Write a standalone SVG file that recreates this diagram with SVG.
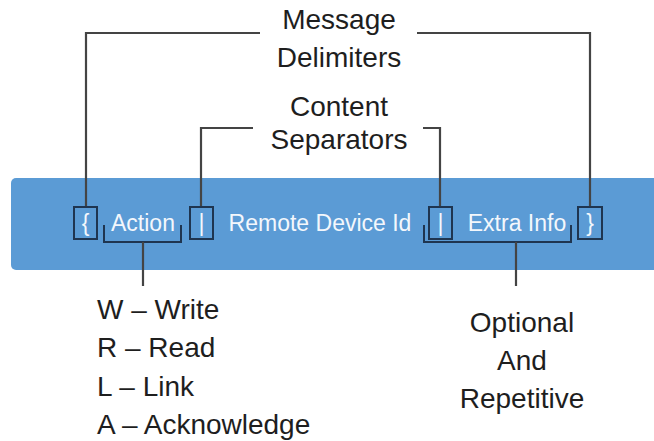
<svg xmlns="http://www.w3.org/2000/svg" width="654" height="441" viewBox="0 0 654 441">
  <style>
    .lbl { font-family: "Liberation Sans", Arial, sans-serif; font-size: 28px; fill: #1e1e1e; }
    .bar-txt { font-family: "Liberation Sans", Arial, sans-serif; font-size: 23px; fill: #f3f7fc; }
    .box { fill: #5b9bd5; stroke: #1f3550; stroke-width: 2; }
    .conn { fill: none; stroke: #444444; stroke-width: 2.2; }
    .brk { fill: none; stroke: #1f3550; stroke-width: 2; }
  </style>
  <rect width="654" height="441" fill="#ffffff"/>

  <g id="message-bar">
    <rect x="11" y="178" width="660" height="92" rx="5" ry="5" fill="#5b9bd5"/>
  </g>

  <g id="connectors">
    <polyline class="conn" points="86,207 86,33 260,33"/>
    <polyline class="conn" points="417,33 590,33 590,207"/>
    <polyline class="conn" points="201,207 201,128 253,128"/>
    <polyline class="conn" points="423,128 440,128 440,207"/>
    <path class="brk" d="M104,225 V242 H181 V225"/>
    <path class="conn" d="M143,242 V286"/>
    <path class="brk" d="M424,225 V242 H571 V225"/>
    <path class="conn" d="M516,242 V286"/>
  </g>

  <g id="open-brace">
    <rect class="box" x="74" y="207" width="23" height="32"/>
    <text class="bar-txt" x="85.5" y="231" text-anchor="middle">{</text>
  </g>
  <g id="action">
    <text class="bar-txt" x="143" y="231" text-anchor="middle">Action</text>
  </g>
  <g id="separator-1">
    <rect class="box" x="190" y="207" width="23" height="32"/>
    <text class="bar-txt" x="201.5" y="231" text-anchor="middle">|</text>
  </g>
  <g id="remote-device-id">
    <text class="bar-txt" x="320" y="231" text-anchor="middle">Remote Device Id</text>
  </g>
  <g id="separator-2">
    <rect class="box" x="429" y="207" width="23" height="32"/>
    <text class="bar-txt" x="440.5" y="231" text-anchor="middle">|</text>
  </g>
  <g id="extra-info">
    <text class="bar-txt" x="517" y="231" text-anchor="middle">Extra Info</text>
  </g>
  <g id="close-brace">
    <rect class="box" x="578" y="207" width="24" height="32"/>
    <text class="bar-txt" x="590" y="231" text-anchor="middle">}</text>
  </g>

  <g id="message-delimiters">
    <text class="lbl" x="339" y="29" text-anchor="middle">Message</text>
    <text class="lbl" x="339" y="67" text-anchor="middle">Delimiters</text>
  </g>
  <g id="content-separators">
    <text class="lbl" x="339" y="116" text-anchor="middle">Content</text>
    <text class="lbl" x="339" y="149" text-anchor="middle">Separators</text>
  </g>
  <g id="action-codes">
    <text class="lbl" x="97" y="319">W – Write</text>
    <text class="lbl" x="97" y="357">R – Read</text>
    <text class="lbl" x="97" y="396">L – Link</text>
    <text class="lbl" x="97" y="434">A – Acknowledge</text>
  </g>
  <g id="optional-repetitive">
    <text class="lbl" x="522" y="332" text-anchor="middle">Optional</text>
    <text class="lbl" x="522" y="370" text-anchor="middle">And</text>
    <text class="lbl" x="522" y="408" text-anchor="middle">Repetitive</text>
  </g>
</svg>
